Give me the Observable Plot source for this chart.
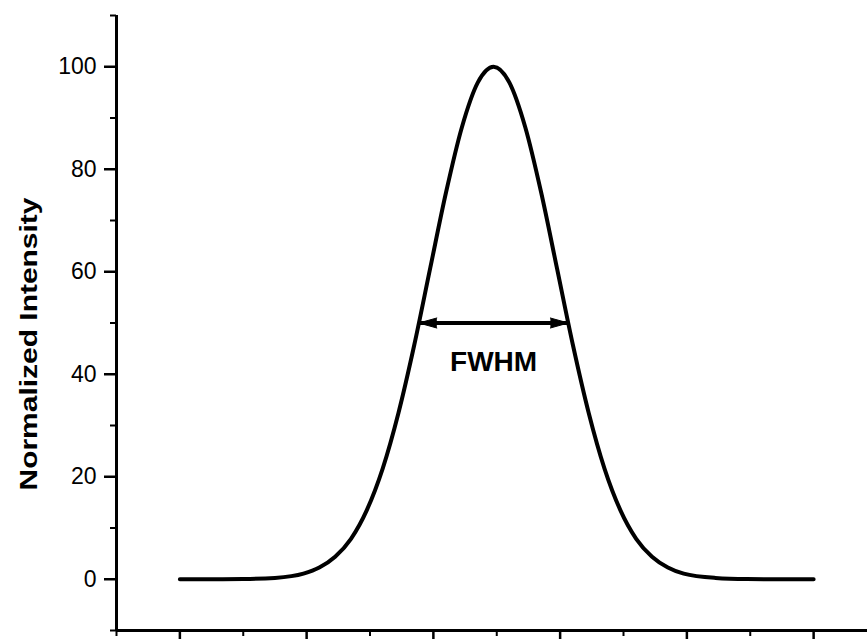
<!DOCTYPE html>
<html>
<head>
<meta charset="utf-8">
<script src="https://cdn.jsdelivr.net/npm/d3@7"></script>
<script src="https://cdn.jsdelivr.net/npm/@observablehq/plot@0.6"></script>
<style>
  html, body { margin: 0; padding: 0; background: #fff; }
  svg { font-family: "Liberation Sans", Arial, sans-serif; }
</style>
</head>
<body>
<div id="chart"></div>
<script>
// Gaussian-like profile
const xs = [0, 0.5, 1, 1.5, 1.95, 2.2, 2.45, 2.7, 2.95, 3.2, 3.45, 3.7, 3.95, 4.2, 4.45, 4.7, 4.95,
            5.2, 5.45, 5.7, 5.95, 6.2, 6.45, 6.7, 6.95, 7.2, 7.45, 7.7, 7.95, 8.45, 8.95, 9.5, 10];
const intensity = [0, 0, 0.04, 0.26, 1.1, 2.3, 4.4, 7.9, 13.5, 21.6, 32.5, 45.8, 60.7, 75.5, 88.2, 96.9, 100,
                   96.9, 88.2, 75.5, 60.7, 45.8, 32.5, 21.6, 13.5, 7.9, 4.4, 2.3, 1.1, 0.26, 0.04, 0, 0];
const yMajorTicks = [0, 20, 40, 60, 80, 100];
const yMinorTicks = [-10, 10, 30, 50, 70, 90, 110];
const xMajorTicks = [0, 2, 4, 6, 8, 10];
const xMinorTicks = [-1, 1, 3, 5, 7, 9];
const fwhmLeft = 3.77, fwhmRight = 6.13, halfMax = 50;
const fwhmLabel = "FWHM";
const fwhmLabelPos = {x: 4.95, y: 42.3};
const yLabel = "Normalized Intensity";

const data = xs.map((x, i) => ({x, y: intensity[i]}));
const arrowHeads = [
  {x: fwhmLeft, y: halfMax, r: -90},
  {x: fwhmRight, y: halfMax, r: 90}
];

const chart = Plot.plot({
  width: 867,
  height: 639,
  marginLeft: 116,
  marginRight: 0,
  marginTop: 15,
  marginBottom: 9,
  style: {background: "#fff", color: "#000"},
  x: {domain: [-1, 10.85], axis: null},
  y: {domain: [-10, 110], axis: null},
  marks: [
    Plot.axisY({ticks: yMajorTicks, tickSize: 12, tickPadding: 8, fontSize: 23, strokeWidth: 2.5, label: null}),
    Plot.axisY({ticks: yMinorTicks, tickSize: 6, tickFormat: () => "", strokeWidth: 2, label: null}),
    Plot.axisX({ticks: xMajorTicks, tickSize: 10, tickFormat: () => "", strokeWidth: 2.5, label: null}),
    Plot.axisX({ticks: xMinorTicks, tickSize: 6, tickFormat: () => "", strokeWidth: 2, label: null}),
    Plot.ruleX([-1], {stroke: "#000", strokeWidth: 3}),
    Plot.ruleY([-10], {stroke: "#000", strokeWidth: 3}),
    Plot.line(data, {x: "x", y: "y", stroke: "#000", strokeWidth: 4, curve: "monotone-x"}),
    Plot.ruleY([halfMax], {x1: fwhmLeft, x2: fwhmRight, stroke: "#000", strokeWidth: 4}),
    Plot.vector(arrowHeads, {x: "x", y: "y", rotate: "r", length: 18, r: 5, shape: "spike", anchor: "end", fill: "#000", stroke: "#000", strokeWidth: 1}),
    Plot.text([fwhmLabel], {x: fwhmLabelPos.x, y: fwhmLabelPos.y, text: d => d, fontSize: 28, fontWeight: "bold", fill: "#000"}),
    Plot.text([yLabel], {frameAnchor: "left", dx: -87, dy: 167.5, rotate: -90, textAnchor: "start", text: d => d, fontSize: 24, fontWeight: "bold", fill: "#000"})
  ]
});

document.getElementById("chart").appendChild(chart);
d3.select(chart).selectAll("text").filter(function() { return this.textContent === yLabel; })
  .attr("textLength", 293).attr("lengthAdjust", "spacingAndGlyphs");
</script>
</body>
</html>
